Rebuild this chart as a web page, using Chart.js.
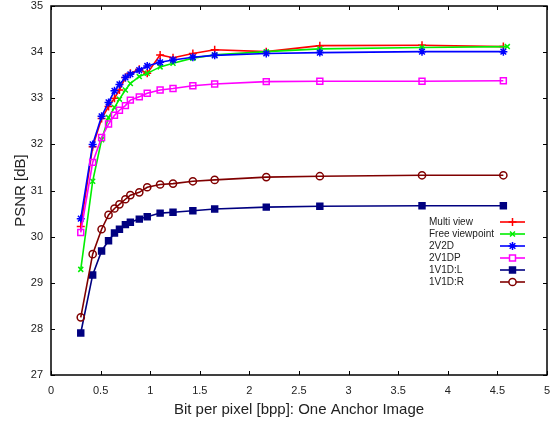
<!DOCTYPE html>
<html><head><meta charset="utf-8">
<script src="https://cdn.jsdelivr.net/npm/chart.js@4/dist/chart.umd.min.js"></script>
<style>html,body{margin:0;padding:0;background:#fff}#wrap{width:554px;height:423px}</style>
</head><body><div id="wrap"><canvas id="c" width="554" height="423"></canvas></div>
<script>
// ---- data ----
const bpp     = [0.3, 0.42, 0.51, 0.58, 0.64, 0.69, 0.75, 0.8, 0.89, 0.97, 1.1, 1.23, 1.43, 1.65, 2.17, 2.71, 3.74, 4.56];
const bppFree = [0.3, 0.42, 0.51, 0.58, 0.64, 0.69, 0.75, 0.8, 0.89, 0.97, 1.1, 1.23, 1.43, 1.65, 2.17, 2.71, 3.74, 4.6];
const multiView     = [30.22, 31.95, 32.56, 32.82, 33.0, 33.18, 33.45, 33.54, 33.63, 33.54, 33.94, 33.88, 33.97, 34.05, 34.01, 34.14, 34.15, 34.12];
const freeViewpoint = [29.29, 31.2, 32.1, 32.58, 32.8, 32.98, 33.18, 33.32, 33.47, 33.54, 33.68, 33.76, 33.87, 33.94, 34.01, 34.07, 34.1, 34.12];
const v2d2          = [30.39, 32.0, 32.61, 32.91, 33.16, 33.3, 33.45, 33.52, 33.61, 33.7, 33.78, 33.83, 33.89, 33.93, 33.97, 33.99, 34.01, 34.01];
const v2d1p         = [30.09, 31.61, 32.15, 32.44, 32.63, 32.74, 32.84, 32.96, 33.03, 33.11, 33.18, 33.21, 33.27, 33.31, 33.36, 33.37, 33.37, 33.38];
const v1d1L         = [27.91, 29.17, 29.69, 29.91, 30.08, 30.16, 30.26, 30.31, 30.38, 30.43, 30.51, 30.53, 30.56, 30.6, 30.64, 30.66, 30.67, 30.67];
const v1d1R         = [28.25, 29.62, 30.16, 30.47, 30.61, 30.7, 30.81, 30.9, 30.96, 31.07, 31.13, 31.15, 31.2, 31.23, 31.29, 31.31, 31.33, 31.33];
const seriesNames = ['Multi view', 'Free viewpoint', '2V2D', '2V1DP', '1V1D:L', '1V1D:R'];
const xTicks = [0, 0.5, 1, 1.5, 2, 2.5, 3, 3.5, 4, 4.5, 5];
const yTicks = [27, 28, 29, 30, 31, 32, 33, 34, 35];

// ---- styles ----
const series = [
  {x: bpp,     y: multiView,     color: '#ff0000', style: 'cross',    r: 4,   fill: false},
  {x: bppFree, y: freeViewpoint, color: '#00ee00', style: 'crossRot', r: 3.5, fill: false},
  {x: bpp,     y: v2d2,          color: '#0000ff', style: 'star',     r: 4,   fill: false},
  {x: bpp,     y: v2d1p,         color: '#ff00ff', style: 'rect',     r: 4.2, fill: false},
  {x: bpp,     y: v1d1L,         color: '#000080', style: 'rect',     r: 4.2, fill: true},
  {x: bpp,     y: v1d1R,         color: '#800000', style: 'circle',   r: 3.6, fill: false}
];

const datasets = series.map((s, i) => ({
  label: seriesNames[i],
  data: s.x.map((xv, j) => ({x: xv, y: s.y[j]})),
  borderColor: s.color,
  backgroundColor: s.fill ? s.color : 'rgba(255,255,255,0)',
  pointStyle: s.style,
  pointRadius: s.r,
  pointBorderColor: s.color,
  pointBackgroundColor: s.fill ? s.color : 'rgba(255,255,255,0)',
  pointBorderWidth: 1.5,
  borderWidth: 1.6,
  tension: 0,
  order: series.length - i
}));

const framePlugin = {
  id: 'frame',
  afterDraw(chart) {
    const {ctx, chartArea: a, scales: {x, y}} = chart;
    ctx.save();
    ctx.strokeStyle = '#000';
    ctx.lineWidth = 1.5;
    ctx.strokeRect(a.left, a.top, a.right - a.left, a.bottom - a.top);
    ctx.lineWidth = 1;
    ctx.beginPath();
    const tl = 4;
    xTicks.forEach(v => {
      const p = Math.round(x.getPixelForValue(v)) + 0.5;
      ctx.moveTo(p, a.bottom); ctx.lineTo(p, a.bottom - tl);
      ctx.moveTo(p, a.top); ctx.lineTo(p, a.top + tl);
    });
    yTicks.forEach(v => {
      const p = Math.round(y.getPixelForValue(v)) + 0.5;
      ctx.moveTo(a.left, p); ctx.lineTo(a.left + tl, p);
      ctx.moveTo(a.right, p); ctx.lineTo(a.right - tl, p);
    });
    ctx.stroke();
    ctx.restore();
  }
};

const legendPlugin = {
  id: 'keyBox',
  afterDatasetsDraw(chart) {
    const ctx = chart.ctx;
    ctx.save();
    ctx.font = '10px "Liberation Sans", Arial, sans-serif';
    ctx.textBaseline = 'middle';
    ctx.textAlign = 'left';
    series.forEach((s, i) => {
      const yy = 222 + i * 12;
      ctx.fillStyle = '#222';
      ctx.fillText(seriesNames[i], 429, yy);
      ctx.strokeStyle = s.color;
      ctx.lineWidth = 1.6;
      ctx.beginPath(); ctx.moveTo(500, yy); ctx.lineTo(525, yy); ctx.stroke();
      ctx.fillStyle = s.fill ? s.color : '#fff';
      ctx.lineWidth = 1.5;
      Chart.helpers.drawPoint(ctx, {pointStyle: s.style, radius: s.r, rotation: 0, borderWidth: 1.5}, 512.5, yy);
    });
    ctx.restore();
  }
};

const tickFont = {family: '"Liberation Sans", Arial, sans-serif', size: 11};
const titleFont = {family: '"Liberation Sans", Arial, sans-serif', size: 15};

new Chart(document.getElementById('c'), {
  type: 'line',
  data: {datasets},
  options: {
    responsive: false,
    animation: false,
    devicePixelRatio: 1,
    layout: {padding: {top: 6, right: 7, left: 0, bottom: 0}},
    plugins: {legend: {display: false}, tooltip: {enabled: false}},
    scales: {
      x: {
        type: 'linear', min: 0, max: 5,
        afterBuildTicks: sc => { sc.ticks = xTicks.map(v => ({value: v})); },
        ticks: {font: tickFont, color: '#222', padding: 9, maxRotation: 0, autoSkip: false, callback: v => String(v)},
        grid: {display: false, drawTicks: false},
        border: {display: false},
        title: {display: true, text: 'Bit per pixel [bpp]: One Anchor Image', font: titleFont, color: '#222', padding: {top: 0, bottom: 4}},
        afterFit: sc => { sc.height = 48; sc.paddingLeft = 0; sc.paddingRight = 0; }
      },
      y: {
        type: 'linear', min: 27, max: 35,
        afterBuildTicks: sc => { sc.ticks = yTicks.map(v => ({value: v})); },
        ticks: {font: tickFont, color: '#222', padding: 8, autoSkip: false, callback: v => String(v)},
        grid: {display: false, drawTicks: false},
        border: {display: false},
        title: {display: true, text: 'PSNR [dB]', font: titleFont, color: '#222', padding: {top: 12, bottom: 0}},
        afterFit: sc => { sc.width = 51; sc.paddingTop = 0; sc.paddingBottom = 0; }
      }
    }
  },
  plugins: [framePlugin, legendPlugin]
});
</script>
</body></html>
